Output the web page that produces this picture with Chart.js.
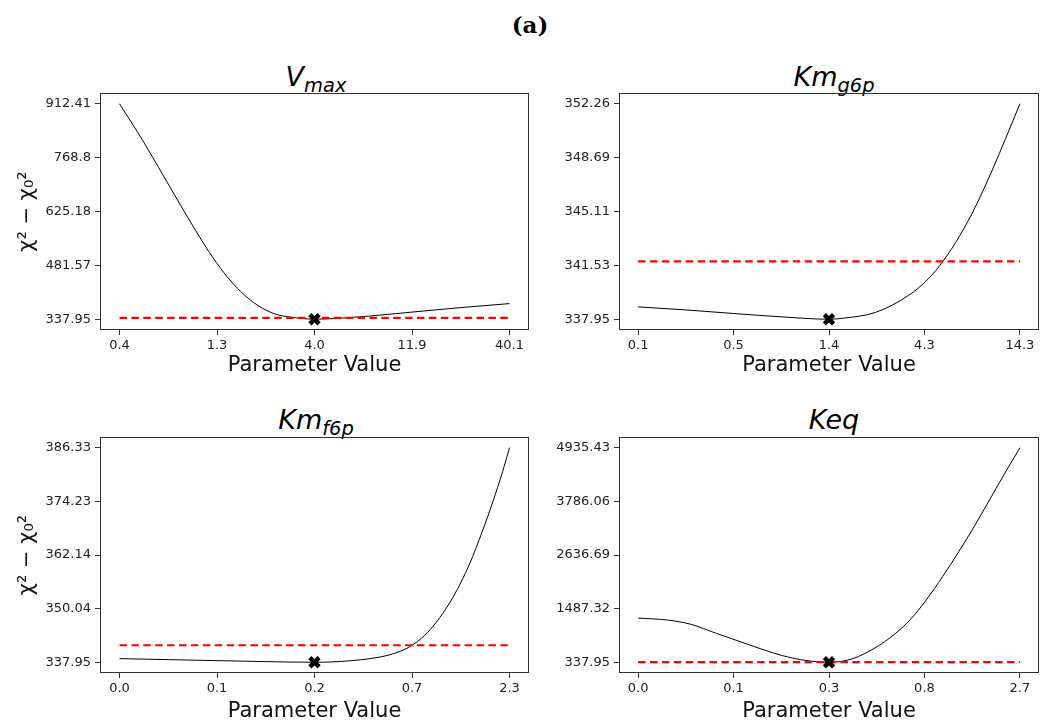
<!DOCTYPE html>
<html>
<head>
<meta charset="utf-8">
<script src="https://cdn.jsdelivr.net/npm/chart.js@4.4.0/dist/chart.umd.min.js"></script>
<style>
body { margin: 0; background: #fff; width: 1050px; height: 722px; position: relative; overflow: hidden; font-family: "DejaVu Sans", sans-serif; }
canvas { position: absolute; }
.ttl { position: absolute; width: 300px; text-align: center; font-style: italic; font-size: 27px; line-height: 1; color: #000; white-space: nowrap; }
.ttl span { font-size: 0.72em; position: relative; top: 0.3em; }
#head { position: absolute; left: 430px; top: 13px; width: 200px; text-align: center; font-family: "DejaVu Serif", serif; font-weight: bold; font-size: 23px; line-height: 1; }
</style>
</head>
<body>
<div id="head">(a)</div>
<div class="ttl" style="left:166px; top:63px">V<span>max</span></div>
<div class="ttl" style="left:684px; top:63px">Km<span>g6p</span></div>
<div class="ttl" style="left:166px; top:406px">Km<span>f6p</span></div>
<div class="ttl" style="left:684px; top:406px">Keq</div>
<canvas id="c1" width="540" height="328" style="left:0; top:50px"></canvas>
<canvas id="c2" width="515" height="328" style="left:535px; top:50px"></canvas>
<canvas id="c3" width="540" height="334" style="left:0; top:390px"></canvas>
<canvas id="c4" width="515" height="334" style="left:535px; top:390px"></canvas>
<script>
// scan positions are in tick steps (0..4 along the log-spaced parameter grid)
const vmaxX = [0, 0.23, 0.40, 0.57, 0.74, 0.91, 1.08, 1.25, 1.42, 1.59, 1.76, 1.93, 2.0, 2.25, 2.5, 3.0, 3.5, 4.0];
const vmaxY = [912.41, 818, 743, 667, 592, 521, 459, 410, 374.5, 352.4, 343.3, 338.6, 337.95, 340.5, 345, 357, 369, 379.6];
const vmaxXTicks = ['0.4', '1.3', '4.0', '11.9', '40.1'];
const vmaxYTicks = ['337.95', '481.57', '625.18', '768.8', '912.41'];

const kmgX = [0, 0.5, 1.0, 1.5, 2.0, 2.15, 2.49, 2.83, 3.04, 3.20, 3.37, 3.54, 3.71, 3.85, 4.0];
const kmgY = [338.77, 338.57, 338.33, 338.11, 337.95, 338.02, 338.41, 339.52, 340.63, 341.85, 343.5, 345.5, 347.85, 349.95, 352.26];
const kmgXTicks = ['0.1', '0.5', '1.4', '4.3', '14.3'];
const kmgYTicks = ['337.95', '341.53', '345.11', '348.69', '352.26'];

const kmfX = [0, 0.5, 1.0, 1.5, 2.0, 2.2, 2.47, 2.65, 2.81, 3.01, 3.21, 3.42, 3.59, 3.72, 3.83, 3.93, 4.0];
const kmfY = [338.77, 338.55, 338.32, 338.1, 337.95, 338.05, 338.5, 339.05, 339.9, 341.9, 345.9, 352.6, 360.1, 367.4, 374.2, 381.0, 386.33];
const kmfXTicks = ['0.0', '0.1', '0.2', '0.7', '2.3'];
const kmfYTicks = ['337.95', '350.04', '362.14', '374.23', '386.33'];

const keqX = [0, 0.31, 0.55, 0.82, 1.16, 1.5, 1.77, 2.0, 2.24, 2.51, 2.68, 2.85, 3.02, 3.19, 3.36, 3.53, 3.7, 3.87, 4.0];
const keqY = [1284.5, 1242, 1153, 957, 715, 487, 373.5, 337.95, 409, 680, 929, 1249, 1676, 2174, 2708, 3277, 3882, 4487, 4935.43];
const keqXTicks = ['0.0', '0.1', '0.3', '0.8', '2.7'];
const keqYTicks = ['337.95', '1487.32', '2636.69', '3786.06', '4935.43'];

const bestX = 2, bestY = 337.95;
const threshold = 341.79; // chi2 min + 3.84

const FONT = '"DejaVu Sans", sans-serif';

const frame = {
    id: 'frame',
    afterDraw(c) {
        const a = c.chartArea, g = c.ctx;
        g.save(); g.strokeStyle = '#333'; g.lineWidth = 1;
        g.strokeRect(Math.round(a.left) + 0.5, Math.round(a.top) + 0.5, Math.round(a.width) - 1, Math.round(a.height) - 1);
        g.restore();
    }
};

function makePanel(id, xs, ys, xTicks, yTicks, box) {
    const yv = yTicks.map(Number);
    const lo = yv[0], hi = yv[yv.length - 1], m = (hi - lo) * 0.05;
    return new Chart(document.getElementById(id), {
        type: 'line',
        data: { datasets: [
            { data: xs.map((x, i) => ({ x: x, y: ys[i] })), borderColor: '#000', borderWidth: 1, pointRadius: 0, cubicInterpolationMode: 'monotone', order: 3 },
            { data: [{ x: 0, y: threshold }, { x: 4, y: threshold }], borderColor: '#ff0000', borderWidth: 2.2, borderDash: [7.5, 4.4], pointRadius: 0, order: 2 },
            { data: [{ x: bestX, y: bestY }], showLine: false, pointStyle: 'crossRot', pointRadius: 6.5, borderWidth: 4.5, borderColor: '#000', backgroundColor: '#000', order: 1 }
        ] },
        options: {
            responsive: false, animation: false, events: [],
            layout: { padding: { top: box.top, right: box.right, bottom: 0, left: 0 } },
            plugins: { legend: { display: false }, tooltip: { enabled: false } },
            scales: {
                x: {
                    type: 'linear', min: -0.2, max: 4.2,
                    afterBuildTicks: s => { s.ticks = xTicks.map((_, i) => ({ value: i })); },
                    afterFit: s => { s.height = box.xh; },
                    ticks: { callback: v => xTicks[v], font: { family: FONT, size: 13 }, color: '#222', padding: 3, maxRotation: 0, autoSkip: false },
                    grid: { display: true, drawOnChartArea: false, drawTicks: true, tickLength: 5, color: '#333' },
                    border: { display: false },
                    title: { display: true, text: 'Parameter Value', font: { family: FONT, size: 21 }, color: '#111', padding: { top: 0, bottom: 0 } }
                },
                y: {
                    type: 'linear', min: lo - m, max: hi + m,
                    afterBuildTicks: s => { s.ticks = yv.map(v => ({ value: v })); },
                    afterFit: s => { s.width = box.yw; },
                    ticks: { callback: (v, i) => yTicks[i], font: { family: FONT, size: 13 }, color: '#222', padding: 4, autoSkip: false },
                    grid: { display: true, drawOnChartArea: false, drawTicks: true, tickLength: 5, color: '#333' },
                    border: { display: false },
                    title: { display: box.ylab, text: 'χ² − χ₀²', font: { family: FONT, size: 21 }, color: '#111', padding: { top: 15, bottom: 0 } }
                }
            }
        },
        plugins: [frame]
    });
}

makePanel('c1', vmaxX, vmaxY, vmaxXTicks, vmaxYTicks, { top: 43, right: 8, xh: 48, yw: 100, ylab: true });
makePanel('c2', kmgX, kmgY, kmgXTicks, kmgYTicks, { top: 43, right: 1, xh: 48, yw: 84, ylab: false });
makePanel('c3', kmfX, kmfY, kmfXTicks, kmfYTicks, { top: 47, right: 8, xh: 51, yw: 100, ylab: true });
makePanel('c4', keqX, keqY, keqXTicks, keqYTicks, { top: 47, right: 1, xh: 51, yw: 84, ylab: false });
</script>
</body>
</html>
